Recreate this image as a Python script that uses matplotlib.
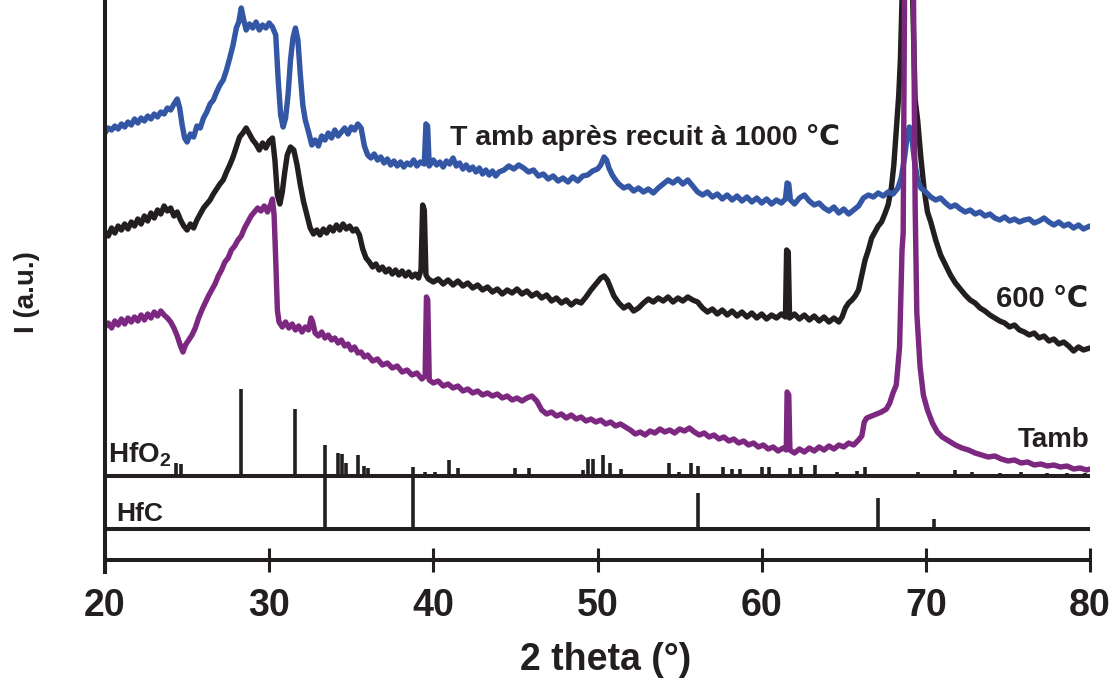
import matplotlib
matplotlib.use("Agg")
import matplotlib.pyplot as plt
from matplotlib import font_manager

# ---- data (intensity in arbitrary units) ----
xticks = [20, 30, 40, 50, 60, 70, 80]

# T amb after annealing at 1000 C (blue)
blue_x = [20.0, 20.2, 20.4, 20.6, 20.8, 21.0, 21.2, 21.4, 21.6, 21.8,
          22.0, 22.2, 22.4, 22.6, 22.8, 23.0, 23.2, 23.4, 23.6, 23.8,
          24.0, 24.2, 24.4, 24.55, 24.7, 24.85, 25.0, 25.2, 25.4, 25.6,
          25.8, 26.0, 26.2, 26.4, 26.6, 26.8, 27.0, 27.2, 27.4, 27.6,
          27.8, 28.0, 28.15, 28.3, 28.45, 28.6, 28.8, 29.0, 29.2, 29.4,
          29.6, 29.8, 30.0, 30.2, 30.4, 30.55, 30.7, 30.85, 31.0, 31.15,
          31.3, 31.45, 31.6, 31.75, 31.9, 32.05, 32.2, 32.4, 32.6, 32.8,
          33.0, 33.2, 33.4, 33.6, 33.8, 34.0, 34.2, 34.4, 34.6, 34.8,
          35.0, 35.2, 35.4, 35.6, 35.8, 36.0, 36.2, 36.4, 36.6, 36.8,
          37.0, 37.2, 37.4, 37.6, 37.8, 38.0, 38.2, 38.4, 38.6, 38.8,
          39.0, 39.2, 39.45, 39.55, 39.65, 39.75, 40.0, 40.2, 40.4, 40.6,
          40.8, 41.0, 41.2, 41.4, 41.6, 41.8, 42.0, 42.2, 42.4, 42.6,
          42.8, 43.0, 43.2, 43.4, 43.6, 43.8, 44.0, 44.3, 44.6, 44.9,
          45.2, 45.5, 45.8, 46.1, 46.4, 46.7, 47.0, 47.3, 47.6, 47.9,
          48.2, 48.5, 48.8, 49.1, 49.4, 49.7, 50.0, 50.2, 50.4, 50.55,
          50.7, 50.9, 51.1, 51.3, 51.6, 51.9, 52.2, 52.5, 52.8, 53.1,
          53.4, 53.7, 54.0, 54.3, 54.6, 54.9, 55.2, 55.5, 55.8, 56.1,
          56.4, 56.7, 57.0, 57.3, 57.6, 57.9, 58.2, 58.5, 58.8, 59.1,
          59.4, 59.7, 60.0, 60.3, 60.6, 60.9, 61.2, 61.45, 61.55, 61.65,
          61.75, 62.0, 62.3, 62.6, 62.9, 63.2, 63.5, 63.8, 64.1, 64.4,
          64.7, 65.0, 65.3, 65.6, 65.9, 66.2, 66.5, 66.8, 67.1, 67.4,
          67.7, 68.0, 68.3, 68.5, 68.7, 68.85, 69.0, 69.15, 69.3, 69.5,
          69.7, 70.0, 70.3, 70.6, 70.9, 71.2, 71.5, 71.8, 72.1, 72.4,
          72.7, 73.0, 73.3, 73.6, 73.9, 74.2, 74.5, 74.8, 75.1, 75.4,
          75.7, 76.0, 76.3, 76.6, 76.9, 77.2, 77.5, 77.8, 78.1, 78.4,
          78.7, 79.0, 79.3, 79.6, 80.0]
blue_y = [427, 432, 430, 434, 431, 436, 433, 438, 435, 441,
          437, 442, 439, 444, 441, 446, 443, 448, 446, 452,
          450, 456, 461, 452, 435, 422, 418, 426, 423, 434,
          432, 442, 448, 456, 460, 468, 475, 480, 490, 502,
          515, 532, 538, 552, 540, 530, 536, 532, 538, 530,
          535, 532, 537, 533, 525, 480, 445, 433, 442, 465,
          500, 522, 532, 520, 485, 455, 440, 428, 415, 420,
          414, 424, 420, 427, 422, 430, 424, 428, 432, 426,
          433, 430, 436, 432, 414, 405, 402, 406, 400, 403,
          397, 401, 395, 399, 394, 398, 393, 397, 395, 400,
          394, 398, 396, 436, 434, 394, 400, 395, 398, 393,
          399, 396, 402, 394, 397, 391, 395, 390, 393, 388,
          392, 386, 390, 385, 389, 384, 388, 390, 394, 391,
          395, 392, 388, 390, 384, 386, 381, 384, 379, 382,
          378, 383, 379, 384, 385, 389, 391, 395, 403, 400,
          392, 385, 380, 376, 372, 374, 369, 372, 368, 371,
          367, 372, 376, 380, 377, 381, 376, 380, 374, 368,
          365, 368, 363, 366, 361, 365, 360, 364, 359, 363,
          358, 362, 357, 361, 356, 360, 357, 361, 377, 376,
          360, 356, 362, 365, 359, 355, 357, 352, 349, 353,
          347, 351, 346, 350, 354, 362, 365, 363, 367, 364,
          368, 366, 372, 382, 402, 422, 433, 422, 400, 380,
          372, 368, 363, 360, 362, 357, 353, 355, 351, 348,
          350, 346, 348, 344, 346, 342, 340, 343, 339, 341,
          338, 340, 341, 337, 339, 342, 338, 335, 338, 334,
          336, 332, 335, 331, 334]

# 600 C (black)
black_x = [20.0, 20.2, 20.4, 20.6, 20.8, 21.0, 21.2, 21.4, 21.6, 21.8,
           22.0, 22.2, 22.4, 22.6, 22.8, 23.0, 23.2, 23.4, 23.6, 23.8,
           24.0, 24.2, 24.4, 24.6, 24.8, 25.0, 25.2, 25.4, 25.6, 25.8,
           26.0, 26.2, 26.4, 26.6, 26.8, 27.0, 27.2, 27.4, 27.6, 27.8,
           28.0, 28.2, 28.4, 28.6, 28.8, 29.0, 29.2, 29.4, 29.6, 29.8,
           30.0, 30.2, 30.35, 30.5, 30.65, 30.8, 30.95, 31.1, 31.3, 31.5,
           31.7, 31.9, 32.1, 32.3, 32.5, 32.7, 32.9, 33.1, 33.3, 33.5,
           33.7, 33.9, 34.1, 34.3, 34.5, 34.7, 34.9, 35.1, 35.3, 35.5,
           35.7, 35.9, 36.1, 36.3, 36.5, 36.7, 36.9, 37.1, 37.3, 37.5,
           37.7, 37.9, 38.1, 38.3, 38.5, 38.7, 38.9, 39.1, 39.25, 39.35,
           39.45, 39.55, 39.7, 40.0, 40.3, 40.6, 40.9, 41.2, 41.5, 41.8,
           42.1, 42.4, 42.7, 43.0, 43.3, 43.6, 43.9, 44.2, 44.5, 44.8,
           45.1, 45.4, 45.7, 46.0, 46.3, 46.6, 46.9, 47.2, 47.5, 47.8,
           48.1, 48.4, 48.7, 49.0, 49.3, 49.6, 49.9, 50.2, 50.4, 50.6,
           50.8, 51.0, 51.3, 51.6, 51.9, 52.2, 52.5, 52.8, 53.1, 53.4,
           53.7, 54.0, 54.3, 54.6, 54.9, 55.2, 55.5, 55.8, 56.1, 56.4,
           56.7, 57.0, 57.3, 57.6, 57.9, 58.2, 58.5, 58.8, 59.1, 59.4,
           59.7, 60.0, 60.3, 60.6, 60.9, 61.2, 61.45, 61.52, 61.62, 61.7,
           62.0, 62.3, 62.6, 62.9, 63.2, 63.5, 63.8, 64.1, 64.4, 64.7,
           64.9, 65.1, 65.3, 65.5, 65.7, 65.9, 66.1, 66.3, 66.5, 66.7,
           66.9, 67.1, 67.3, 67.5, 67.7, 67.9, 68.05, 68.2, 68.35, 68.45,
           68.55, 68.85, 69.2, 69.35, 69.5, 69.7, 69.9, 70.1, 70.3, 70.6,
           70.9, 71.2, 71.5, 71.8, 72.1, 72.4, 72.7, 73.0, 73.3, 73.6,
           73.9, 74.2, 74.5, 74.8, 75.1, 75.4, 75.7, 76.0, 76.3, 76.6,
           76.9, 77.2, 77.5, 77.8, 78.1, 78.4, 78.7, 79.0, 79.3, 79.6,
           80.0]
black_y = [328, 324, 332, 327, 334, 330, 336, 331, 338, 334,
           341, 336, 344, 339, 347, 342, 350, 346, 354, 349,
           352, 344, 348, 340, 334, 330, 336, 332, 340, 346,
           352, 356, 360, 366, 371, 376, 380, 388, 395, 403,
           413, 423, 427, 432, 426, 420, 416, 410, 417, 412,
           419, 422, 400, 365, 356, 368, 388, 405, 413, 410,
           395, 375, 358, 345, 332, 326, 330, 325, 331, 327,
           333, 329, 335, 330, 336, 331, 334, 329, 331, 325,
           311, 302, 298, 293, 296, 290, 293, 288, 291, 286,
           290, 285, 289, 284, 288, 283, 286, 282, 290, 355,
           350, 285, 281, 278, 281, 276, 280, 275, 279, 274,
           277, 272, 275, 270, 273, 268, 271, 266, 270, 267,
           271, 266, 269, 264, 267, 262, 265, 259, 262, 257,
           260, 255, 259, 257, 263, 270, 276, 282, 284, 280,
           272, 264, 257, 252, 255, 249, 252, 257, 261, 258,
           262, 259, 263, 258, 262, 259, 263, 260, 258, 252,
           248, 251, 246, 250, 245, 249, 244, 248, 243, 247,
           242, 246, 241, 245, 242, 246, 243, 310, 308, 242,
           246, 241, 245, 240, 244, 239, 243, 238, 242, 238,
           243, 252, 257, 260, 264, 270, 285, 300, 310, 322,
           328, 334, 338, 346, 355, 372, 395, 430, 465, 500,
           560, 950, 560, 460, 440, 402, 370, 348, 338, 320,
           305, 295, 285, 277, 271, 265, 260, 257, 252, 249,
           245, 242, 239, 237, 233, 235, 230, 228, 225, 227,
           222, 224, 219, 221, 216, 218, 214, 209, 213, 210,
           212]

# T amb (purple)
purple_x = [20.0, 20.2, 20.4, 20.6, 20.8, 21.0, 21.2, 21.4, 21.6, 21.8,
            22.0, 22.2, 22.4, 22.6, 22.8, 23.0, 23.2, 23.4, 23.6, 23.8,
            24.0, 24.2, 24.4, 24.6, 24.75, 24.9, 25.1, 25.3, 25.5, 25.7,
            25.9, 26.1, 26.3, 26.5, 26.7, 26.9, 27.1, 27.3, 27.5, 27.7,
            27.9, 28.1, 28.3, 28.5, 28.7, 28.9, 29.1, 29.3, 29.5, 29.7,
            29.9, 30.1, 30.2, 30.3, 30.4, 30.5, 30.6, 30.8, 31.0, 31.2,
            31.4, 31.6, 31.8, 32.0, 32.2, 32.4, 32.55, 32.65, 32.8, 33.0,
            33.2, 33.4, 33.6, 33.8, 34.0, 34.2, 34.4, 34.6, 34.8, 35.0,
            35.2, 35.4, 35.6, 35.8, 36.0, 36.3, 36.6, 36.9, 37.2, 37.5,
            37.8, 38.1, 38.4, 38.7, 39.0, 39.3, 39.5, 39.58, 39.66, 39.75,
            40.0, 40.3, 40.6, 40.9, 41.2, 41.5, 41.8, 42.1, 42.4, 42.7,
            43.0, 43.3, 43.6, 43.9, 44.2, 44.5, 44.8, 45.1, 45.4, 45.7,
            46.0, 46.3, 46.6, 46.9, 47.2, 47.5, 47.8, 48.1, 48.4, 48.7,
            49.0, 49.3, 49.6, 49.9, 50.2, 50.5, 50.8, 51.1, 51.4, 51.7,
            52.0, 52.3, 52.6, 52.9, 53.2, 53.5, 53.8, 54.1, 54.4, 54.7,
            55.0, 55.3, 55.6, 55.9, 56.2, 56.5, 56.8, 57.1, 57.4, 57.7,
            58.0, 58.3, 58.6, 58.9, 59.2, 59.5, 59.8, 60.1, 60.4, 60.7,
            61.0, 61.3, 61.5, 61.55, 61.65, 61.72, 62.0, 62.3, 62.6, 62.9,
            63.2, 63.5, 63.8, 64.1, 64.4, 64.7, 65.0, 65.3, 65.6, 65.9,
            66.1, 66.25, 66.4, 66.7, 67.0, 67.3, 67.6, 67.8, 68.0, 68.2,
            68.4, 68.55, 68.62, 68.7, 68.95, 69.25, 69.35, 69.45, 69.65, 69.85,
            70.1, 70.4, 70.7, 71.0, 71.4, 71.8, 72.2, 72.6, 73.0, 73.4,
            73.8, 74.2, 74.6, 75.0, 75.4, 75.8, 76.2, 76.6, 77.0, 77.4,
            77.8, 78.2, 78.6, 79.0, 79.4, 79.8, 80.0]
purple_y = [233, 237, 232, 239, 235, 241, 236, 242, 238, 243,
            239, 245, 240, 246, 242, 248, 244, 249, 245, 242,
            238, 232, 224, 214, 208, 215, 220, 225, 232, 242,
            250, 257, 264, 270, 276, 284, 290, 298, 302, 310,
            314, 320, 324, 332, 338, 344, 348, 352, 349, 354,
            348, 356, 361, 345, 300, 250, 238, 233, 238, 232,
            236, 230, 234, 228, 233, 230, 242, 238, 227, 224,
            228, 222, 225, 220, 222, 217, 220, 214, 216, 210,
            213, 207, 208, 203, 205, 199, 201, 195, 197, 192,
            194, 188, 190, 185, 187, 181, 184, 263, 260, 180,
            177, 179, 174, 176, 172, 174, 169, 171, 167, 169,
            165, 167, 164, 166, 162, 164, 160, 162, 159, 162,
            164, 159, 150, 146, 148, 144, 146, 142, 145, 141,
            143, 139, 141, 138, 140, 136, 138, 134, 136, 133,
            130, 126, 128, 125, 129, 127, 131, 128, 130, 127,
            131, 129, 132, 128, 125, 127, 123, 125, 121, 123,
            119, 121, 117, 119, 115, 117, 113, 115, 111, 113,
            109, 112, 110, 168, 165, 110, 107, 111, 108, 112,
            109, 113, 110, 114, 111, 115, 113, 117, 115, 120,
            124, 138, 142, 144, 146, 148, 151, 157, 167, 175,
            213, 310, 327, 560, 1000, 560, 353, 247, 193, 165,
            150, 137, 128, 123, 119, 115, 112, 110, 107, 105,
            103, 104, 101, 99, 100, 97, 98, 95, 96, 94,
            95, 93, 94, 91, 92, 90, 91]

# reference patterns (stick positions and heights)
hfo2_base = 84
hfo2_pos = [24.35, 24.6, 28.3, 31.6, 33.4, 34.2, 34.45, 34.7, 35.4, 35.75,
            36.0, 38.75, 39.5, 40.1, 40.95, 41.5, 44.95, 45.8, 49.1, 49.45,
            49.7, 50.35, 50.75, 51.45, 54.35, 54.95, 55.7, 56.1, 57.65, 58.2,
            58.7, 60.05, 60.45, 61.7, 62.4, 63.25, 64.6, 65.8, 66.3, 69.5,
            71.8, 72.8, 74.5, 75.8, 77.4, 78.6, 79.7]
hfo2_int = [13, 12, 87, 67, 31, 23, 22, 13, 21, 10,
            8, 9, 4, 4, 16, 8, 8, 8, 6, 17,
            17, 21, 13, 7, 13, 4, 13, 10, 9, 7,
            7, 9, 9, 8, 9, 11, 4, 5, 9, 4,
            6, 4, 3, 4, 3, 3, 3]
hfc_base = 31
hfc_pos = [33.4, 38.75, 56.1, 67.1, 70.5]
hfc_int = [52, 52, 36, 31, 10]

INK = "#231f20"
BLUE = "#3356a5"
PURPLE = "#7d2880"

installed = {f.name for f in font_manager.fontManager.ttflist}
narrow = "Liberation Sans Narrow" if "Liberation Sans Narrow" in installed else "Liberation Sans"
plt.rcParams["font.family"] = ["Liberation Sans", "DejaVu Sans"]
plt.rcParams["mathtext.fontset"] = "custom"
plt.rcParams["mathtext.rm"] = "Liberation Sans:bold"
plt.rcParams["mathtext.bf"] = "Liberation Sans:bold"

W, H = 1113, 686
fig = plt.figure(figsize=(W / 100, H / 100), dpi=100)
ax = fig.add_axes([105 / W, (H - 560) / H, 985 / W, 560 / H])
ax.set_xlim(20, 80)
ax.set_ylim(0, 560)

# stick patterns
ax.axhline(hfo2_base, color=INK, lw=2.9, zorder=2)
ax.axhline(hfc_base, color=INK, lw=2.9, zorder=2)
ax.vlines(hfo2_pos, hfo2_base, [hfo2_base + h for h in hfo2_int], color=INK, lw=2.6, zorder=2)
ax.vlines(hfc_pos, hfc_base, [hfc_base + h for h in hfc_int], color=INK, lw=2.6, zorder=2)

# measured patterns
kw = dict(lw=3.9, solid_joinstyle="round", solid_capstyle="round")
ax.plot(black_x, black_y, color=INK, zorder=3, **kw)
ax.plot(blue_x, blue_y, color=BLUE, zorder=4, **kw)
ax.plot(purple_x, purple_y, color=PURPLE, zorder=5, **kw)

# axes
for side in ("top", "right", "left"):
    ax.spines[side].set_visible(False)
ax.spines["bottom"].set_linewidth(2.9)
ax.spines["bottom"].set_color(INK)
ax.axvline(20, ymin=-12 / 560, ymax=1, color=INK, lw=2.9, clip_on=False, zorder=6)
ax.set_yticks([])
ax.set_xticks(xticks)
ax.set_xticklabels([str(t) for t in xticks], fontfamily=narrow, fontweight="bold", fontsize=27)
ax.tick_params(axis="x", direction="inout", length=17, width=2.2, pad=12, color=INK, labelcolor=INK)


def fpos(px, py):
    return px / W, 1 - py / H


bold = dict(fontweight="bold", color=INK)
fig.text(*fpos(606, 660), "2 theta (°)", ha="center", va="center",
         fontfamily=[narrow, "DejaVu Sans"], fontsize=27, **bold)
fig.text(*fpos(27, 292), "I (a.u.)", ha="center", va="center", rotation=90, fontsize=20, **bold)

fig.text(*fpos(450, 145), "T amb après recuit à 1000 ℃", ha="left", va="baseline", fontsize=20.5, **bold)
fig.text(*fpos(1088, 307), "600 ℃", ha="right", va="baseline", fontsize=21, **bold)
fig.text(*fpos(1090, 447), "Tamb", ha="right", va="baseline", fontsize=20, **bold)
fig.text(*fpos(108, 462), r"HfO$_2$", ha="left", va="baseline", fontsize=20, **bold)
fig.text(*fpos(116, 521), "HfC", ha="left", va="baseline", fontsize=19, **bold)

fig.savefig("out.png", dpi=100)
